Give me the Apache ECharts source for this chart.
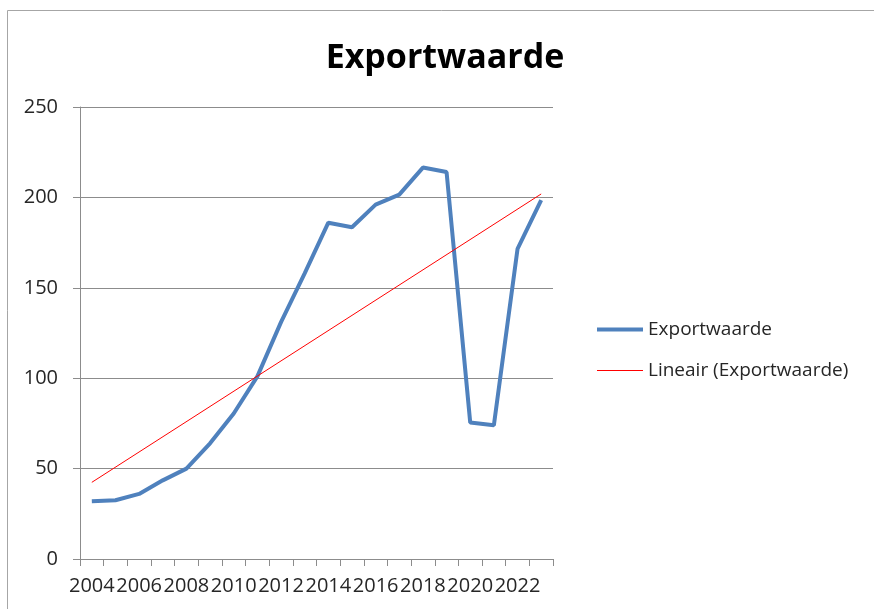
<!DOCTYPE html>
<html>
<head>
<meta charset="utf-8">
<script src="https://cdn.jsdelivr.net/npm/echarts@6/dist/echarts.min.js"></script>
<style>
  html, body { margin: 0; padding: 0; background: #fff; }
  #chart { width: 874px; height: 609px; }
</style>
</head>
<body>
<div id="chart"></div>
<script>
  // jaren op de x-as
  const years = ['2004', '2005', '2006', '2007', '2008', '2009', '2010', '2011', '2012', '2013',
    '2014', '2015', '2016', '2017', '2018', '2019', '2020', '2021', '2022', '2023']
  const exportValues = [32, 32.5, 36, 43.5, 50, 64, 80.5, 101, 131, 158,
    186, 183.5, 196, 201.5, 216.5, 214, 75.5, 74, 171.5, 198.5]
  const trendYears = ['2004', '2023']
  const trendValues = [42.4, 201.9]
  const yTicks = { min: 0, max: 250, interval: 50 }

  const labelFont = '"Open Sans", "DejaVu Sans", sans-serif'
  const chart = echarts.init(document.getElementById('chart'))

  chart.setOption({
    animation: false,
    title: {
      text: 'Exportwaarde',
      left: 440,
      textAlign: 'center',
      top: 36,
      textStyle: { fontFamily: labelFont, fontWeight: 'bold', fontSize: 34, color: '#000' }
    },
    graphic: [{
      type: 'rect',
      shape: { x: 7.5, y: 10.5, width: 900, height: 700 },
      style: { fill: 'none', stroke: '#a6a6a6', lineWidth: 1 },
      silent: true
    }],
    legend: {
      orient: 'vertical',
      left: 590,
      top: 315,
      itemWidth: 46,
      itemHeight: 14,
      itemGap: 22,
      textStyle: { fontFamily: labelFont, fontSize: 19, color: '#262626' },
      data: [
        { name: 'Exportwaarde', itemStyle: { opacity: 0 }, lineStyle: { width: 4, color: '#4f81bd' } },
        { name: 'Lineair (Exportwaarde)', itemStyle: { opacity: 0 }, lineStyle: { width: 1, color: '#ff0000' } }
      ]
    },
    grid: { left: 80, right: 321, top: 107, bottom: 50 },
    xAxis: {
      type: 'category',
      data: years,
      boundaryGap: true,
      axisLine: { lineStyle: { color: '#8c8c8c', width: 1 } },
      axisTick: { show: true, interval: 0, length: 7, lineStyle: { color: '#8c8c8c' } },
      axisLabel: {
        interval: 1,
        margin: 17,
        fontFamily: labelFont,
        fontSize: 20,
        color: '#262626'
      }
    },
    yAxis: {
      type: 'value',
      min: yTicks.min,
      max: yTicks.max,
      interval: yTicks.interval,
      axisLine: { show: true, lineStyle: { color: '#8c8c8c', width: 1 } },
      axisTick: { show: true, length: 7, lineStyle: { color: '#8c8c8c' } },
      axisLabel: { margin: 22, fontFamily: labelFont, fontSize: 20, color: '#262626' },
      splitLine: { lineStyle: { color: '#8c8c8c', width: 1 } }
    },
    series: [
      {
        name: 'Exportwaarde',
        type: 'line',
        data: exportValues,
        symbol: 'none',
        lineStyle: { color: '#4f81bd', width: 4 },
        itemStyle: { color: '#4f81bd' }
      },
      {
        name: 'Lineair (Exportwaarde)',
        type: 'line',
        data: trendYears.map((y, i) => [y, trendValues[i]]),
        symbol: 'none',
        lineStyle: { color: '#ff0000', width: 1 },
        itemStyle: { color: '#ff0000' }
      }
    ]
  })
</script>
</body>
</html>
